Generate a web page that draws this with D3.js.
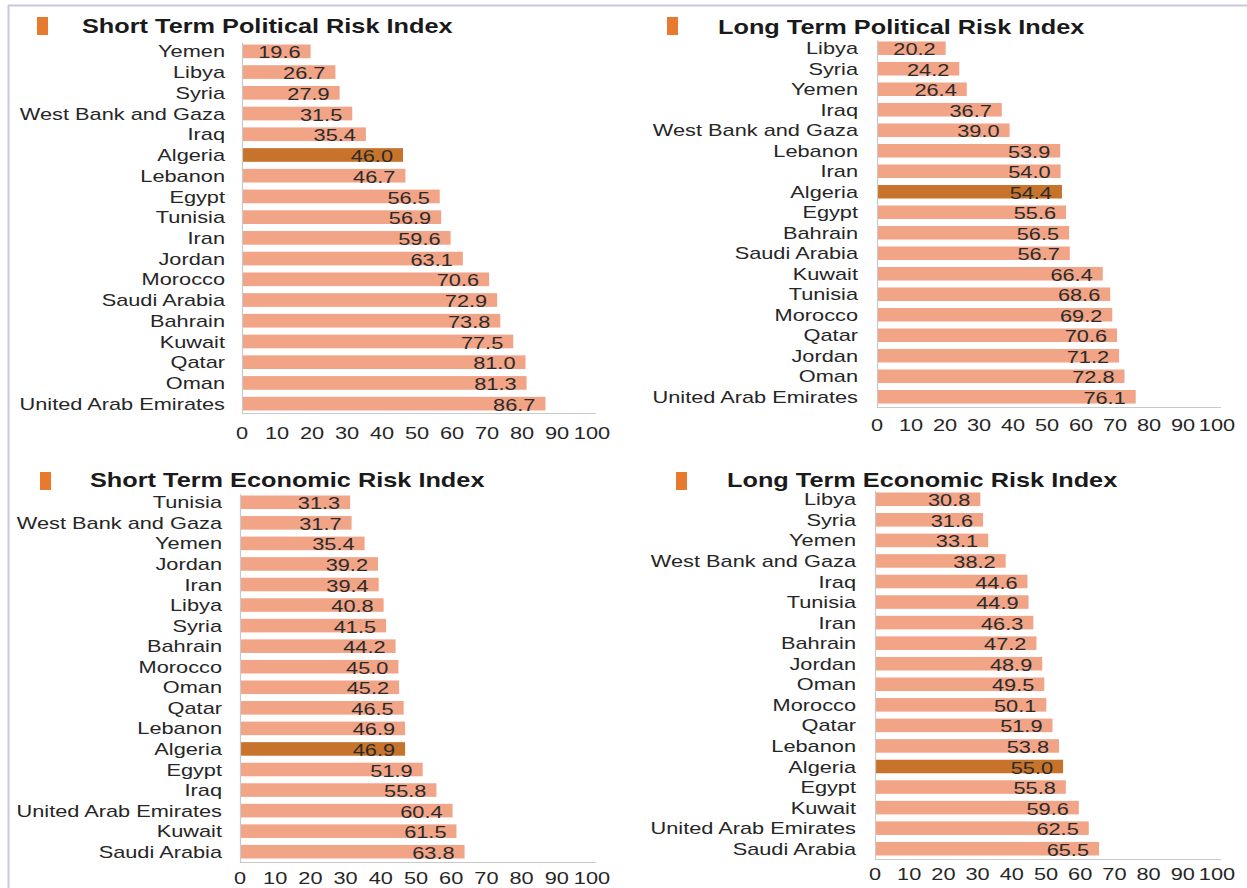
<!DOCTYPE html>
<html>
<head>
<meta charset="utf-8">
<script src="https://cdn.jsdelivr.net/npm/d3@7"></script>
<style>
  html, body { margin: 0; padding: 0; background: #ffffff; }
  svg { display: block; font-family: "Liberation Sans", Arial, sans-serif; }
</style>
</head>
<body>
<svg id="chart" width="1247" height="888"></svg>
<script>
// ---- data -------------------------------------------------------------
const stPolCountries = ["Yemen","Libya","Syria","West Bank and Gaza","Iraq","Algeria","Lebanon","Egypt","Tunisia","Iran","Jordan","Morocco","Saudi Arabia","Bahrain","Kuwait","Qatar","Oman","United Arab Emirates"];
const stPolValues = [19.6,26.7,27.9,31.5,35.4,46.0,46.7,56.5,56.9,59.6,63.1,70.6,72.9,73.8,77.5,81.0,81.3,86.7];

const ltPolCountries = ["Libya","Syria","Yemen","Iraq","West Bank and Gaza","Lebanon","Iran","Algeria","Egypt","Bahrain","Saudi Arabia","Kuwait","Tunisia","Morocco","Qatar","Jordan","Oman","United Arab Emirates"];
const ltPolValues = [20.2,24.2,26.4,36.7,39.0,53.9,54.0,54.4,55.6,56.5,56.7,66.4,68.6,69.2,70.6,71.2,72.8,76.1];

const stEcoCountries = ["Tunisia","West Bank and Gaza","Yemen","Jordan","Iran","Libya","Syria","Bahrain","Morocco","Oman","Qatar","Lebanon","Algeria","Egypt","Iraq","United Arab Emirates","Kuwait","Saudi Arabia"];
const stEcoValues = [31.3,31.7,35.4,39.2,39.4,40.8,41.5,44.2,45.0,45.2,46.5,46.9,46.9,51.9,55.8,60.4,61.5,63.8];

const ltEcoCountries = ["Libya","Syria","Yemen","West Bank and Gaza","Iraq","Tunisia","Iran","Bahrain","Jordan","Oman","Morocco","Qatar","Lebanon","Algeria","Egypt","Kuwait","United Arab Emirates","Saudi Arabia"];
const ltEcoValues = [30.8,31.6,33.1,38.2,44.6,44.9,46.3,47.2,48.9,49.5,50.1,51.9,53.8,55.0,55.8,59.6,62.5,65.5];

const panelTitles = ["Short Term Political Risk Index","Long Term Political Risk Index","Short Term Economic Risk Index","Long Term Economic Risk Index"];
const axisTicks = [0,10,20,30,40,50,60,70,80,90,100];
const highlightCountry = "Algeria";

// ---- style ------------------------------------------------------------
const barColor = "#f2a487";
const highlightColor = "#c8732c";
const iconColor = "#e87a30";
const textColor = "#262626";
const axisColor = "#c9c9c9";
const frameColor = "#cdc3e3";
const SX = 1.28;        // horizontal stretch of body text
const TITLE_SX = 1.265; // horizontal stretch of panel titles

// ---- layout of each panel ---------------------------------------------
const layouts = [
  { x0: 242, x1: 592, rowTop: 41,  rowBot: 414, axisY: 413, tickY: 433, labelGap: 17, titleX: 82,  titleY: 26, iconX: 37,  iconY: 17 },
  { x0: 877, x1: 1217, rowTop: 38, rowBot: 407, axisY: 407, tickY: 425, labelGap: 19, titleX: 718, titleY: 27, iconX: 667, iconY: 17 },
  { x0: 240, x1: 592, rowTop: 492, rowBot: 862, axisY: 862, tickY: 878, labelGap: 18, titleX: 90,  titleY: 480, iconX: 40, iconY: 472 },
  { x0: 875, x1: 1217, rowTop: 489, rowBot: 859, axisY: 859, tickY: 874, labelGap: 19, titleX: 727, titleY: 480, iconX: 676, iconY: 472 }
];

const panelData = [
  [stPolCountries, stPolValues],
  [ltPolCountries, ltPolValues],
  [stEcoCountries, stEcoValues],
  [ltEcoCountries, ltEcoValues]
];

const svg = d3.select("#chart");

// outer frame: top rule and left rule
svg.append("line").attr("x1", 8).attr("x2", 1247).attr("y1", 5.5).attr("y2", 5.5)
  .attr("stroke", frameColor).attr("stroke-width", 2);
svg.append("line").attr("x1", 8.5).attr("x2", 8.5).attr("y1", 5).attr("y2", 888)
  .attr("stroke", frameColor).attr("stroke-width", 2);

// text helper: stretched horizontally around its anchor point
function stretchedText(g, x, y, str, opts) {
  return g.append("text")
    .attr("transform", `translate(${x},${y}) scale(${opts.sx || SX},1)`)
    .attr("text-anchor", opts.anchor || "start")
    .attr("dominant-baseline", "central")
    .attr("font-size", opts.size)
    .attr("font-weight", opts.weight || "normal")
    .attr("fill", opts.fill || textColor)
    .text(str);
}

panelData.forEach(([countries, values], i) => {
  const L = layouts[i];
  const g = svg.append("g");
  const rows = countries.map((c, k) => ({ country: c, value: values[k] }));

  const x = d3.scaleLinear().domain([0, 100]).range([L.x0, L.x1]);
  const y = d3.scaleBand().domain(countries).range([L.rowTop, L.rowBot]).paddingInner(0.34).paddingOuter(0.17);

  // legend-style marker and title
  g.append("rect").attr("x", L.iconX).attr("y", L.iconY).attr("width", 11).attr("height", 18)
    .attr("fill", iconColor);
  stretchedText(g, L.titleX, L.titleY, panelTitles[i], { size: 20, weight: "bold", fill: "#1a1a1a", sx: TITLE_SX });

  // bars
  g.selectAll("rect.bar").data(rows).join("rect")
    .attr("class", "bar")
    .attr("x", x(0))
    .attr("y", d => y(d.country))
    .attr("width", d => x(d.value) - x(0))
    .attr("height", y.bandwidth())
    .attr("fill", d => d.country === highlightCountry ? highlightColor : barColor);

  // value labels, inside the bar end
  rows.forEach(d => {
    stretchedText(g, x(d.value) - 10, y(d.country) + y.bandwidth() / 2 + 1, d.value.toFixed(1),
      { size: 17, anchor: "end", fill: "#2b2b2b" });
  });

  // category labels
  rows.forEach(d => {
    stretchedText(g, L.x0 - L.labelGap, y(d.country) + y.bandwidth() / 2, d.country,
      { size: 17, anchor: "end" });
  });

  // axis rules
  g.append("line").attr("x1", x(0)).attr("x2", x(100) + 4)
    .attr("y1", L.axisY + 0.5).attr("y2", L.axisY + 0.5)
    .attr("stroke", axisColor).attr("stroke-width", 1.2);
  g.append("line").attr("x1", x(0) + 0.5).attr("x2", x(0) + 0.5)
    .attr("y1", L.rowTop + 2).attr("y2", L.axisY)
    .attr("stroke", axisColor).attr("stroke-width", 1.2);

  // tick labels
  axisTicks.forEach(t => {
    stretchedText(g, x(t), L.tickY, String(t), { size: 17, anchor: "middle" });
  });
});
</script>
</body>
</html>
